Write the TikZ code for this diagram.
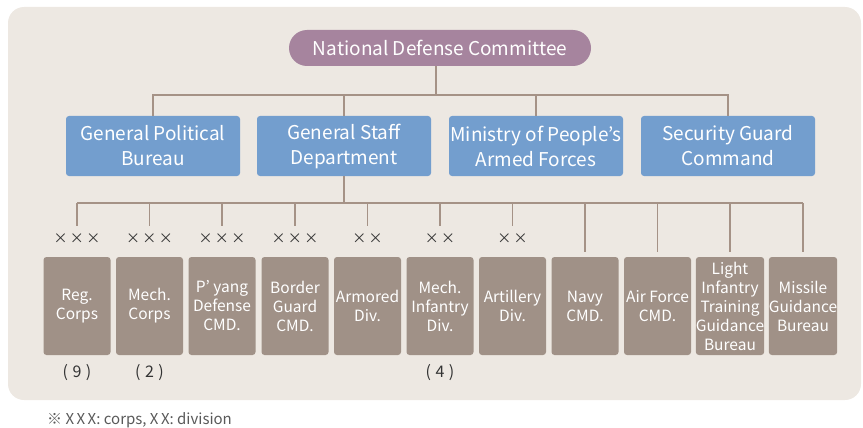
\documentclass[tikz,border=0pt]{standalone}
\usepackage{fontspec}
\setmainfont{Noto Sans CJK KR}
\usetikzlibrary{positioning,shapes.misc}

\definecolor{panelbg}{HTML}{EDE8E2}
\definecolor{ndcpurple}{HTML}{A6849E}
\definecolor{deptblue}{HTML}{739ECE}
\definecolor{unitbrown}{HTML}{A09187}
\definecolor{linkgray}{HTML}{A59286}
\definecolor{marktext}{HTML}{333333}

\tikzset{
  topbox/.style = {rounded rectangle, fill = ndcpurple, text = white, minimum width = 302pt, minimum height = 36pt, inner sep = 0pt, font = \fontsize{19}{22}\selectfont},
  deptbox/.style = {rectangle, rounded corners = 3pt, fill = deptblue, text = white, minimum width = 174pt, minimum height = 60pt, inner sep = 0pt, align = center, font = \fontsize{19}{25}\selectfont},
  unitbox/.style = {rectangle, rounded corners = 3pt, fill = unitbrown, text = white, minimum width = 67pt, minimum height = 98pt, inner sep = 0pt, align = center, font = \fontsize{15.5}{19}\selectfont},
  rankmark/.style = {text = marktext, inner sep = 0pt, minimum height = 26pt, font = \fontsize{14}{16}\selectfont},
  countmark/.style = {text = marktext, inner sep = 0pt, minimum height = 20pt, font = \fontsize{16}{18}\selectfont},
  link/.style = {draw = linkgray, line width = 1.1pt}
}

\begin{document}
\begin{tikzpicture}[x = 1pt, y = -1pt]
            \useasboundingbox (0,0) rectangle (863,428);
            \fill[panelbg, rounded corners = 16pt] (8,7) rectangle (861,400);

            \node[topbox] (ndc) at (440,48) {National Defense Committee};

            \node[deptbox] (gpb) at (153,146) {General Political\\Bureau};
            \node[deptbox] (gsd) at (344,146) {General Staff\\Department};
            \node[deptbox] (mpaf) at (536,146) {Ministry of People's\\Armed Forces};
            \node[deptbox] (sgc) at (728,146) {Security Guard\\Command};

            \coordinate (bus1) at (436,95);
            \draw[link] (bus1 |- ndc.south) -- (bus1);
            \draw[link] (gpb.north) -- (gpb.north |- bus1) -- (sgc.north |- bus1) -- (sgc.north);
            \draw[link] (gsd.north) -- (gsd.north |- bus1);
            \draw[link] (mpaf.north) -- (mpaf.north |- bus1);

            \node[unitbox] (reg) at (77,306) {Reg.\\Corps};
            \node[unitbox] (mech) at (149.5,306) {Mech.\\Corps};
            \node[unitbox] (pyang) at (222,306) {P' yang\\Defense\\CMD.};
            \node[unitbox] (border) at (295,306) {Border\\Guard\\CMD.};
            \node[unitbox] (armor) at (367.5,306) {Armored\\Div.};
            \node[unitbox] (mechinf) at (440,306) {Mech.\\Infantry\\Div.};
            \node[unitbox] (artil) at (512.5,306) {Artillery\\Div.};
            \node[unitbox] (navy) at (585,306) {Navy\\CMD.};
            \node[unitbox] (airf) at (657.5,306) {Air Force\\CMD.};
            \node[unitbox] (light) at (730,306) {Light\\Infantry\\Training\\Guidance\\Bureau};
            \node[unitbox] (missile) at (803,306) {Missile\\Guidance\\Bureau};

            \node[rankmark] (rreg) at (77,239) {×\,×\,×};
            \node[rankmark] (rmech) at (149.5,239) {×\,×\,×};
            \node[rankmark] (rpyang) at (222,239) {×\,×\,×};
            \node[rankmark] (rborder) at (295,239) {×\,×\,×};
            \node[rankmark] (rarmor) at (367.5,239) {×\,×};
            \node[rankmark] (rmechinf) at (440,239) {×\,×};
            \node[rankmark] (rartil) at (512.5,239) {×\,×};

            \coordinate (bus2) at (344,203);
            \draw[link] (gsd.south) -- (gsd.south |- bus2);
            \draw[link] (rreg.north |- bus2) -- (missile.north |- bus2);
            \draw[link] (rreg.north |- bus2) -- (rreg.north);
            \draw[link] (rmech.north |- bus2) -- (rmech.north);
            \draw[link] (rpyang.north |- bus2) -- (rpyang.north);
            \draw[link] (rborder.north |- bus2) -- (rborder.north);
            \draw[link] (rarmor.north |- bus2) -- (rarmor.north);
            \draw[link] (rmechinf.north |- bus2) -- (rmechinf.north);
            \draw[link] (rartil.north |- bus2) -- (rartil.north);
            \draw[link] (navy.north |- bus2) -- ([yshift = 5pt]navy.north);
            \draw[link] (airf.north |- bus2) -- ([yshift = 5pt]airf.north);
            \draw[link] (light.north |- bus2) -- ([yshift = 5pt]light.north);
            \draw[link] (missile.north |- bus2) -- ([yshift = 5pt]missile.north);

            \node[countmark, below = 7pt of reg] (nreg) {(\;9\;)};
            \node[countmark, below = 7pt of mech] (nmech) {(\;2\;)};
            \node[countmark, below = 7pt of mechinf] (nmechinf) {(\;4\;)};

            \node[anchor = west, text = black!65, inner sep = 0pt, font = \fontsize{15}{17}\selectfont] (note) at (47,420) {※ X\,X\,X: corps, X\,X: division};
        \end{tikzpicture}
\end{document}
